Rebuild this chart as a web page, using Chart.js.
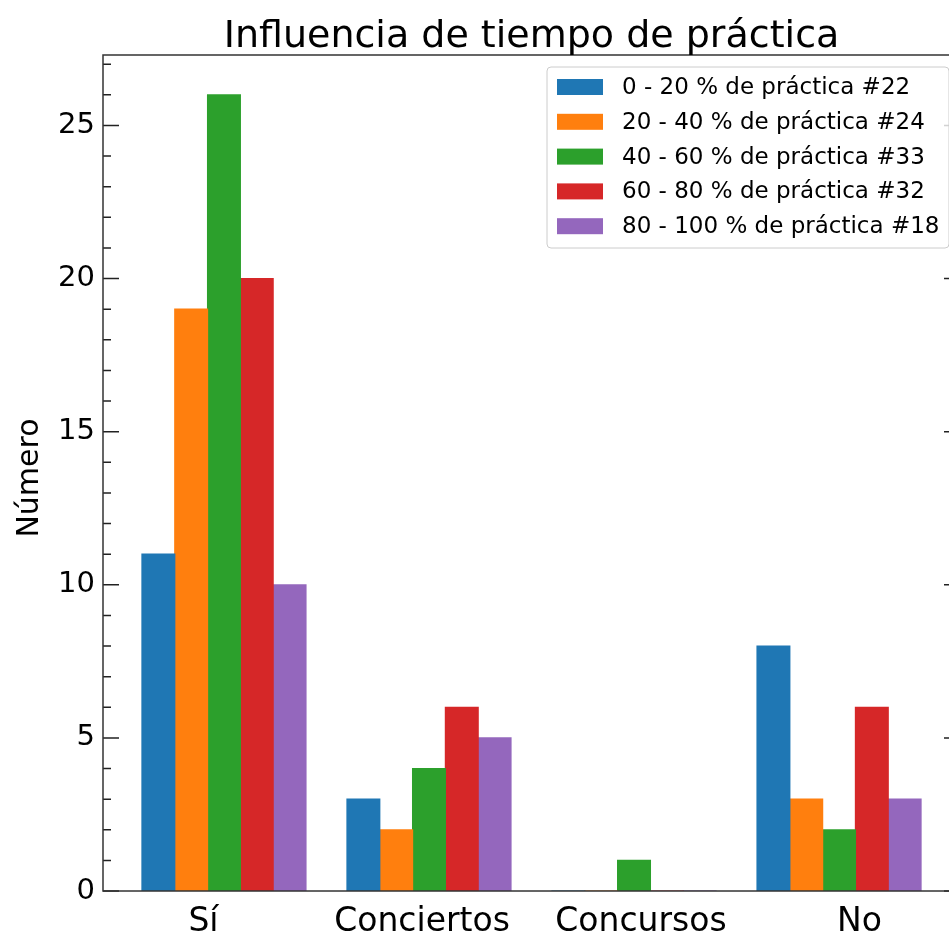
<!DOCTYPE html>
<html>
<head>
<meta charset="utf-8">
<script src="https://cdn.jsdelivr.net/npm/chart.js@4"></script>
<style>
    html, body { margin: 0; padding: 0; background: #fff; }
    #wrap { width: 949px; height: 937px; overflow: hidden; }
</style>
</head>
<body>
<div id="wrap"><canvas id="myChart" width="962" height="937"></canvas></div>
<script>
// data
const categories = ['Sí', 'Conciertos', 'Concursos', 'No'];
// where the category labels sit on the x axis (they are spread a bit wider than the bar groups)
const labelAt = [-0.1, 0.966, 2.034, 3.1];
const seriesNames = [
    '0 - 20 % de práctica #22',
    '20 - 40 % de práctica #24',
    '40 - 60 % de práctica #33',
    '60 - 80 % de práctica #32',
    '80 - 100 % de práctica #18'
];
const prac0_20 = [11, 3, 0, 8];
const prac20_40 = [19, 2, 0, 3];
const prac40_60 = [26, 4, 1, 2];
const prac60_80 = [20, 6, 0, 6];
const prac80_100 = [10, 5, 0, 3];
const yTicks = [0, 5, 10, 15, 20, 25];

const colors = ['#1f77b4', '#ff7f0e', '#2ca02c', '#d62728', '#9467bd'];
const FONT = '"DejaVu Sans", sans-serif';

const allSeries = [prac0_20, prac20_40, prac40_60, prac60_80, prac80_100];
const datasets = allSeries.map((vals, k) => ({
    label: seriesNames[k],
    data: vals.map((v, i) => ({ x: i, y: v })),
    backgroundColor: colors[k],
    borderWidth: 0,
    inflateAmount: 0.6,
    categoryPercentage: 0.8,
    barPercentage: 1.0
}));

// spines, inward ticks, title and legend (matplotlib look)
const mplFrame = {
    id: 'mplFrame',
    afterDraw(chart) {
        const ctx = chart.ctx;
        const a = chart.chartArea;
        const y = chart.scales.y;
        ctx.save();
        ctx.strokeStyle = '#222';
        ctx.lineWidth = 1.5;
        // ticks
        for (let v = 0; v <= 27; v++) {
            const py = y.getPixelForValue(v);
            const len = (v % 5 == 0) ? 16 : 8;
            ctx.beginPath();
            ctx.moveTo(a.left, py); ctx.lineTo(a.left + len, py);
            ctx.moveTo(a.right, py); ctx.lineTo(a.right - len, py);
            ctx.stroke();
        }
        // spines
        ctx.strokeStyle = '#333';
        ctx.strokeRect(a.left, a.top, a.right - a.left, a.bottom - a.top);

        // title
        ctx.fillStyle = '#000';
        ctx.font = '38px ' + FONT;
        ctx.textAlign = 'center';
        ctx.textBaseline = 'alphabetic';
        ctx.fillText('Influencia de tiempo de práctica', (a.left + a.right) / 2, 47);

        // y axis label
        ctx.save();
        ctx.translate(30, 478);
        ctx.rotate(-Math.PI / 2);
        ctx.font = '30px ' + FONT;
        ctx.textBaseline = 'middle';
        ctx.fillText('Número', 0, 0);
        ctx.restore();

        // legend
        const bx = 547, by = 67, bw = 402, bh = 181;
        ctx.beginPath();
        ctx.roundRect(bx, by, bw, bh, 4);
        ctx.fillStyle = 'rgba(255,255,255,0.8)';
        ctx.fill();
        ctx.strokeStyle = '#cccccc';
        ctx.lineWidth = 1;
        ctx.stroke();
        ctx.font = '23px ' + FONT;
        ctx.textAlign = 'left';
        ctx.textBaseline = 'middle';
        chart.data.datasets.forEach((ds, k) => {
            const cy = 87 + k * 34.8;
            ctx.fillStyle = ds.backgroundColor;
            ctx.fillRect(557, cy - 8, 46, 16);
            ctx.fillStyle = '#000';
            ctx.fillText(ds.label, 622, cy + 1);
        });
        ctx.restore();
    }
};

const ctx = document.getElementById('myChart');
const myChart = new Chart(ctx, {
    type: 'bar',
    data: { datasets: datasets },
    options: {
        responsive: false,
        animation: false,
        layout: { padding: { top: 55, right: 2, left: 0, bottom: 0 } },
        plugins: {
            legend: { display: false },
            tooltip: { enabled: false }
        },
        scales: {
            x: {
                type: 'linear',
                min: -0.59,
                max: 3.59,
                offset: false,
                grid: { display: false, drawTicks: false, offset: false },
                border: { display: false },
                afterBuildTicks: (scale) => {
                    scale.ticks = labelAt.map(v => ({ value: v }));
                },
                afterFit: (scale) => { scale.height = 46; },
                ticks: {
                    autoSkip: false,
                    maxRotation: 0,
                    padding: 12,
                    color: '#000',
                    font: { family: FONT, size: 33 },
                    callback: (v, i) => categories[i]
                }
            },
            y: {
                min: 0,
                max: 27.3,
                grid: { display: false, drawTicks: false },
                border: { display: false },
                afterBuildTicks: (scale) => {
                    scale.ticks = yTicks.map(v => ({ value: v }));
                },
                afterFit: (scale) => { scale.width = 103; },
                ticks: {
                    padding: 8,
                    color: '#000',
                    font: { family: FONT, size: 29 }
                }
            }
        }
    },
    plugins: [mplFrame]
});
</script>
</body>
</html>
